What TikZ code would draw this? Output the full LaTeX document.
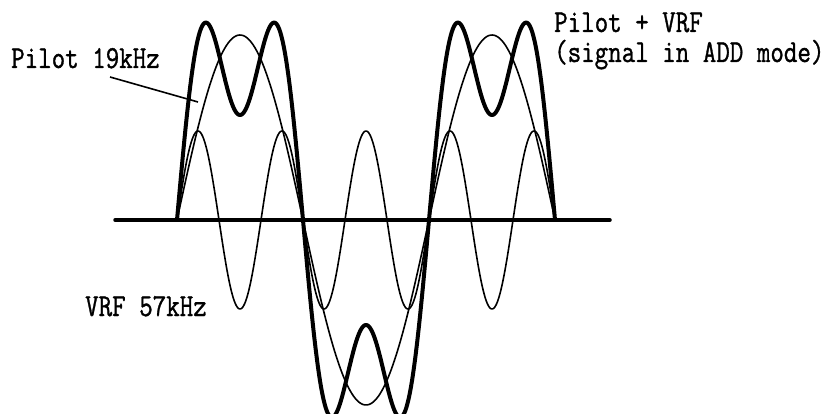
\documentclass[tikz,border=0pt]{standalone}
\usepackage{fontspec}
\newfontfamily\plotfont[FakeBold=1.2]{Latin Modern Mono}
\begin{document}
\begin{tikzpicture}[x=1pt,y=-1pt,
  thincurve/.style={line width=1.6pt, line join=round, line cap=round},
  thickcurve/.style={line width=4pt, line join=round, line cap=round},
  axisline/.style={line width=3.5pt, line cap=round},
  leader/.style={line width=1.6pt},
  lbl/.style={font=\fontsize{32}{30}\selectfont\plotfont, inner sep=0pt, xscale=0.82, anchor=base west, align=left}]
\fill[white] (0,0) rectangle (835,414);
\useasboundingbox (0,0) rectangle (835,414);
% axis
\coordinate (axL) at (115,220);
\coordinate (axR) at (610,220);
\draw[axisline] (axL) -- (axR);
% pilot 19 kHz
\draw[thincurve] plot[domain=177:555, samples=200, smooth] (\x, {220 - 185*sin((\x-177)*1.4285714)});
% VRF 57 kHz
\draw[thincurve] plot[domain=177:555, samples=400, smooth] (\x, {220 - 89*sin((\x-177)*4.2857143)});
% pilot + VRF
\draw[thickcurve] plot[domain=177:555, samples=400, smooth] (\x, {220 - 191*sin((\x-177)*1.4285714) - 86*sin((\x-177)*4.2857143)});
% labels
\node[lbl] (pilot) at (11,68) {Pilot 19kHz};
\node[lbl] (sum) at (554,62) {Pilot + VRF\\(signal in ADD mode)};
\node[lbl] (vrf) at (85,316) {VRF 57kHz};
\coordinate (ldA) at (110,77);
\coordinate (ldB) at (198,102);
\draw[leader] (ldA) -- (ldB);
\end{tikzpicture}
\end{document}
